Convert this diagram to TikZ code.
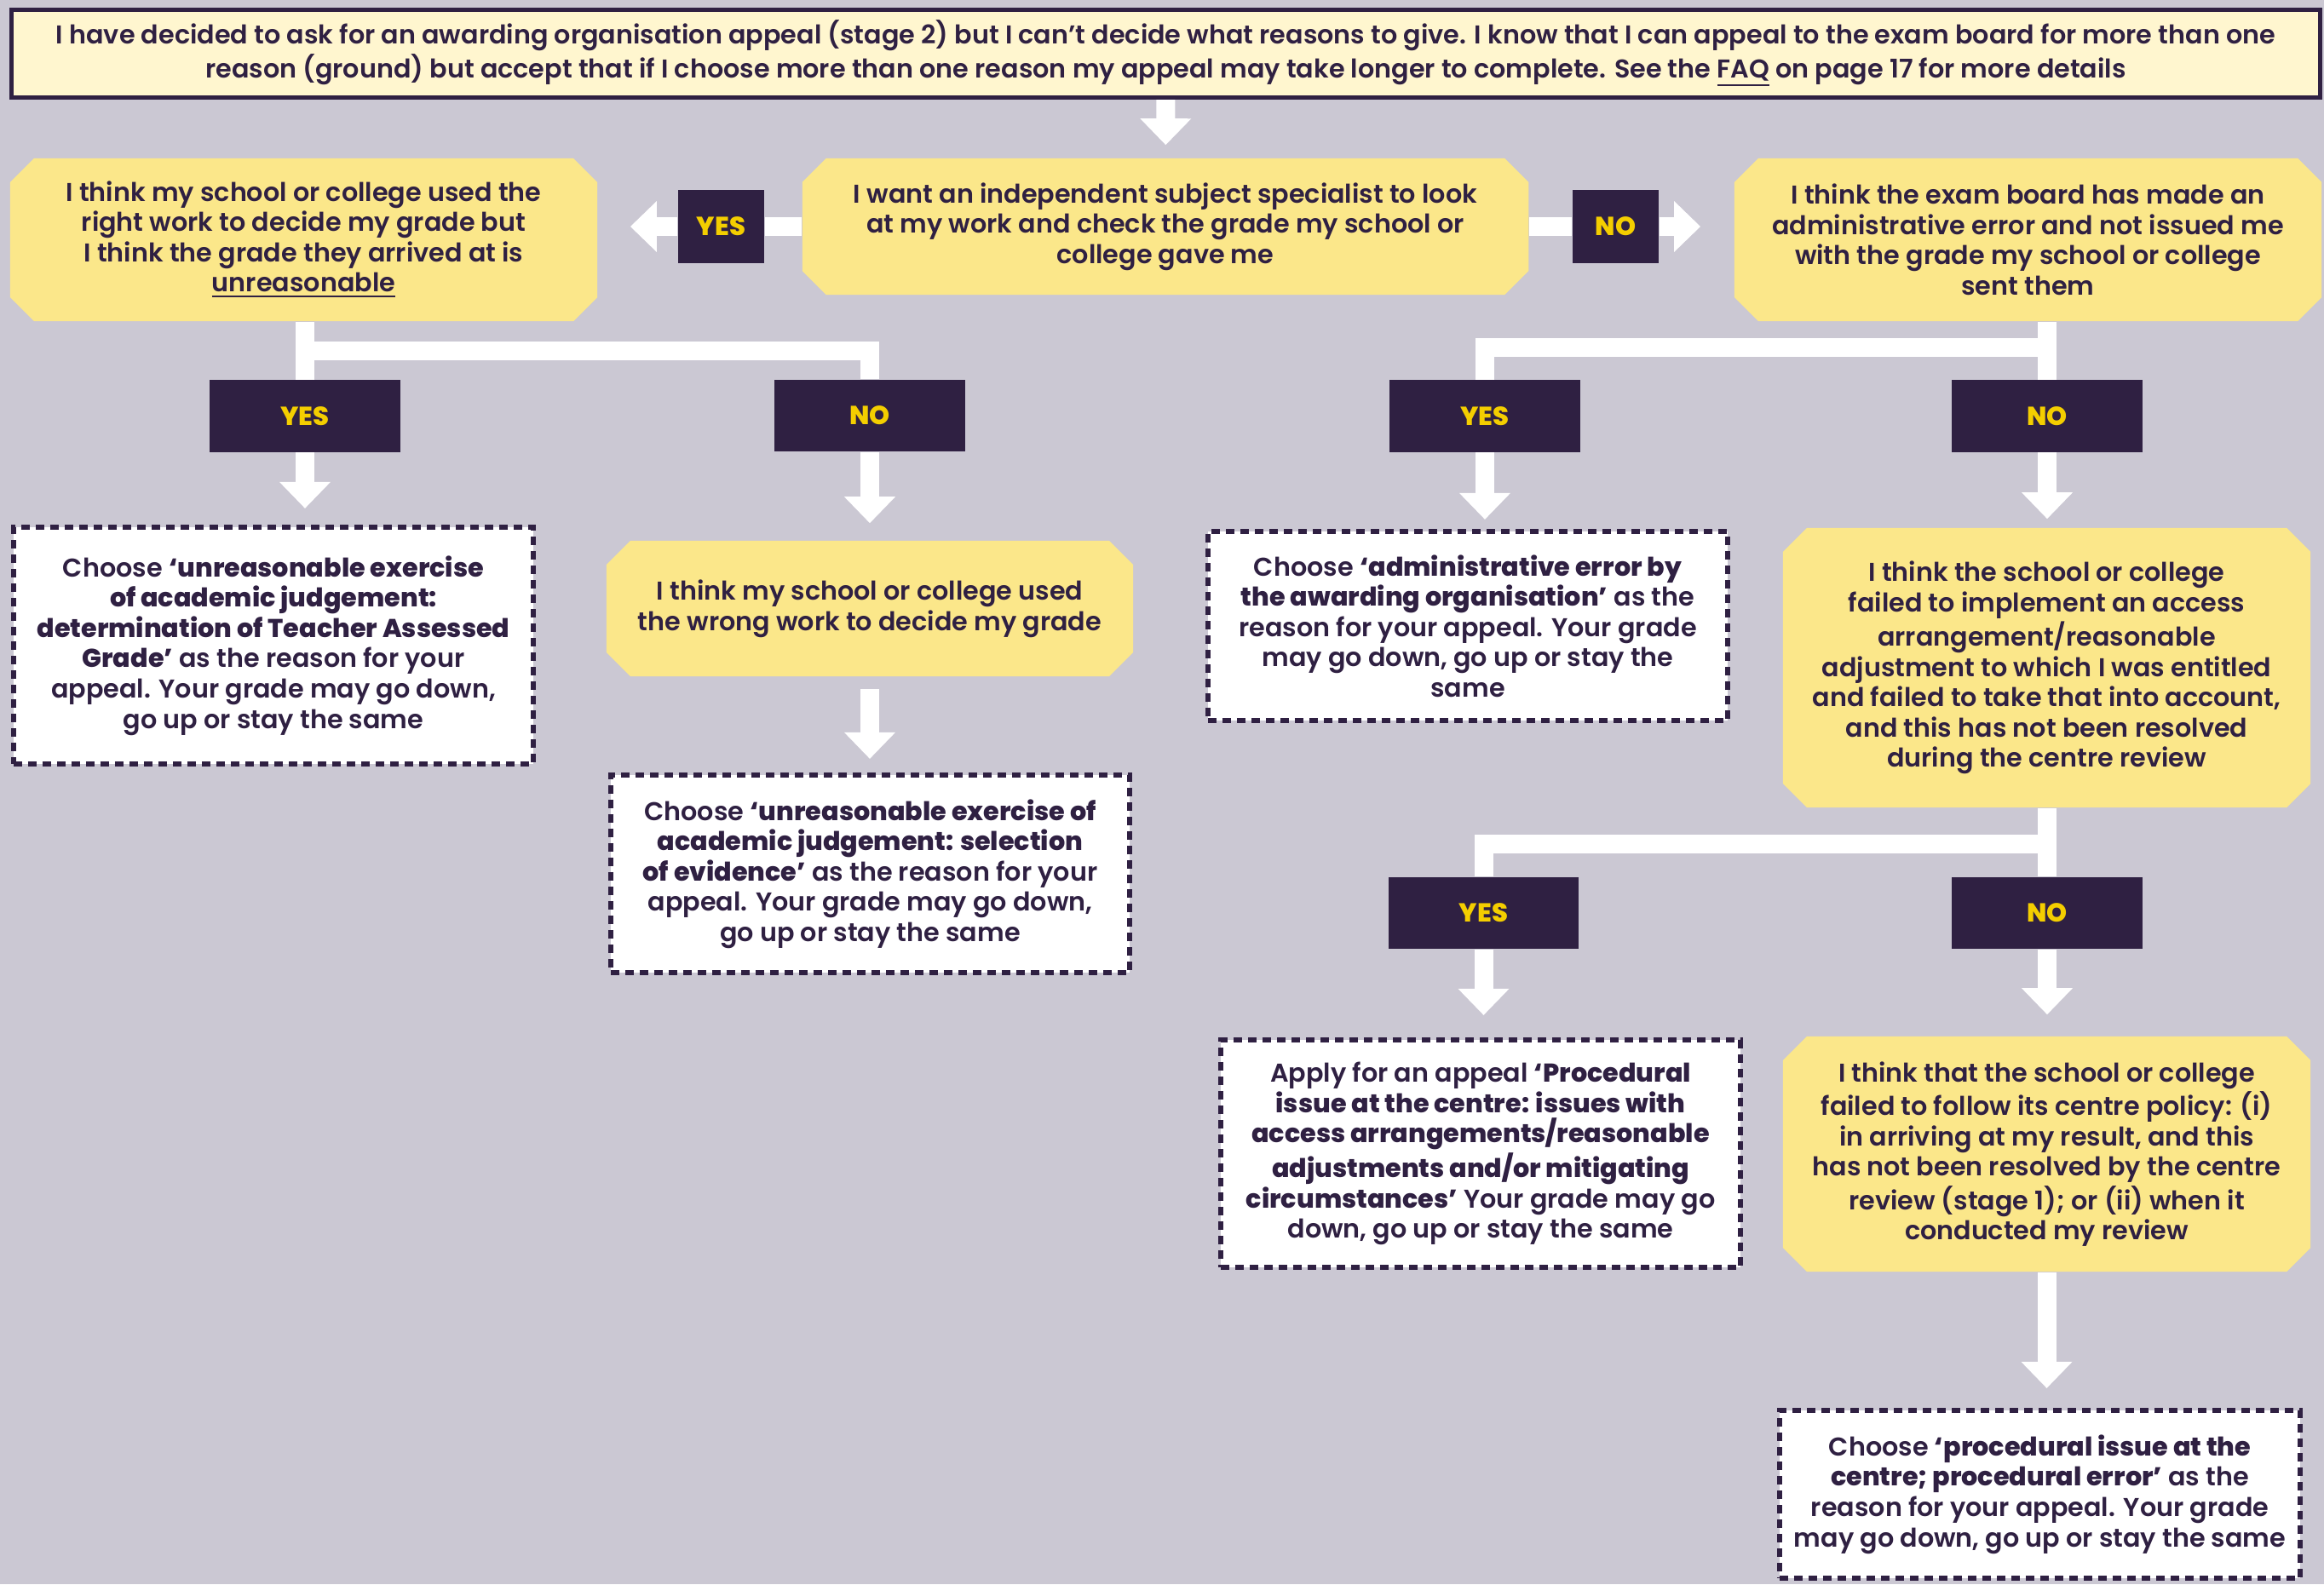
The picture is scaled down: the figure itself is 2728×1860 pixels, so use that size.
\documentclass[tikz,border=0pt]{standalone}
\usepackage{fontspec}
\setmainfont{Poppins SemiBold}[BoldFont={Poppins ExtraBold}]
\definecolor{GreyBack}{HTML}{CBC8D3}
\definecolor{PurpleDark}{HTML}{2F2042}
\definecolor{YellowBox}{HTML}{FBE78A}
\definecolor{CreamTop}{HTML}{FFF6CF}
\definecolor{GoldText}{HTML}{F4CE00}
\usetikzlibrary{
  arrows.meta,
  positioning,
  shapes.misc
}

\begin{document}
\begin{tikzpicture}[
  x=0.01cm, y=-0.01cm,
  font=\fontsize{8.6}{10.1}\selectfont,
  qbox/.style={
    chamfered rectangle, chamfered rectangle sep=0.14cm,
    fill=YellowBox, text=PurpleDark,
    align=center, inner sep=0pt
  },
  pick/.style={
    rectangle, fill=white, draw=PurpleDark,
    line width=0.06cm, dash pattern=on 0.1cm off 0.07cm,
    text=PurpleDark, align=center, inner sep=0pt
  },
  yesno/.style={
    rectangle, fill=PurpleDark, text=GoldText,
    font=\fontsize{8.7}{10}\selectfont\bfseries,
    minimum width=2.23cm, minimum height=0.84cm, inner sep=0pt
  },
  wline/.style={
    draw=white, line width=0.22cm
  },
  arr/.style={
    wline, -{Triangle[width=0.58cm, length=0.31cm]}
  }
]
  \fill[GreyBack] (0,0) rectangle (2728,1860);
  \useasboundingbox (0,0) rectangle (2728,1860);

  \node[draw=PurpleDark, line width=0.05cm, fill=CreamTop, text=PurpleDark,
    align=center, minimum width=27.08cm, minimum height=1.03cm, inner sep=0pt]
    (intro) at (1368.5,63) {I have decided to ask for an awarding organisation appeal (stage 2) but I can’t decide what reasons to give. I know that I can appeal to the exam board for more than one\\
    reason (ground) but accept that if I choose more than one reason my appeal may take longer to complete. See the \underline{FAQ} on page 17 for more details};

  % first question
  \node[qbox, minimum width=8.52cm, minimum height=1.60cm] (specialist) at (1368,266)
    {I want an independent subject specialist to look\\ at my work and check the grade my school or\\ college gave me};
  \node[qbox, minimum width=6.89cm, minimum height=1.91cm] (unreas) at (356.5,281.5)
    {I think my school or college used the\\ right work to decide my grade but\\ I think the grade they arrived at is\\ \underline{unreasonable}};
  \node[qbox, minimum width=6.89cm, minimum height=1.91cm] (exam) at (2380.5,281.5)
    {I think the exam board has made an\\ administrative error and not issued me\\ with the grade my school or college\\ sent them};
  \node[yesno, minimum width=1.01cm, minimum height=0.85cm] (yesA) at (846.5,266) {YES};
  \node[yesno, minimum width=1.01cm, minimum height=0.85cm] (noA) at (1896.5,266) {NO};

  % second row
  \node[yesno] (yesB) at (358,488.5) {YES};
  \node[yesno] (noB) at (1021,488) {NO};
  \node[yesno] (yesC) at (1743,488.5) {YES};
  \node[yesno] (noC) at (2403,488.5) {NO};
  \coordinate (splitL) at (358,412);
  \coordinate (splitR) at (2403,408);

  \node[pick, minimum width=6.10cm, minimum height=2.78cm] (tag) at (321,758)
    {Choose \textbf{‘unreasonable exercise}\\ \textbf{of academic judgement:}\\ \textbf{determination of Teacher Assessed}\\ \textbf{Grade’} as the reason for your\\ appeal. Your grade may go down,\\ go up or stay the same};
  \node[qbox, minimum width=6.18cm, minimum height=1.59cm] (wrongwork) at (1021,714.5)
    {I think my school or college used\\ the wrong work to decide my grade};
  \node[pick, minimum width=6.09cm, minimum height=2.32cm] (evidence) at (1021.5,1026)
    {Choose \textbf{‘unreasonable exercise of}\\ \textbf{academic judgement: selection}\\ \textbf{of evidence’} as the reason for your\\ appeal. Your grade may go down,\\ go up or stay the same};
  \node[pick, minimum width=6.10cm, minimum height=2.22cm] (adminerr) at (1723,735)
    {Choose \textbf{‘administrative error by}\\ \textbf{the awarding organisation’} as the\\ reason for your appeal. Your grade\\ may go down, go up or stay the\\ same};
  \node[qbox, minimum width=6.19cm, minimum height=3.28cm] (access) at (2402.5,784)
    {I think the school or college\\ failed to implement an access\\ arrangement/reasonable\\ adjustment to which I was entitled\\ and failed to take that into account,\\ and this has not been resolved\\ during the centre review};

  % third row
  \node[yesno] (yesD) at (1741.5,1072) {YES};
  \node[yesno] (noD) at (2403,1072) {NO};
  \coordinate (splitLow) at (2403,991);

  \node[pick, minimum width=6.10cm, minimum height=2.67cm] (procaa) at (1738,1354.5)
    {Apply for an appeal \textbf{‘Procedural}\\ \textbf{issue at the centre: issues with}\\ \textbf{access arrangements/reasonable}\\ \textbf{adjustments and/or mitigating}\\ \textbf{circumstances’} Your grade may go\\ down, go up or stay the same};
  \node[qbox, minimum width=6.19cm, minimum height=2.76cm] (policy) at (2402.5,1355)
    {I think that the school or college\\ failed to follow its centre policy: (i)\\ in arriving at my result, and this\\ has not been resolved by the centre\\ review (stage 1); or (ii) when it\\ conducted my review};
  \node[pick, minimum width=6.11cm, minimum height=1.97cm] (procerr) at (2394.5,1754.5)
    {Choose \textbf{‘procedural issue at the}\\ \textbf{centre; procedural error’} as the\\ reason for your appeal. Your grade\\ may go down, go up or stay the same};

  % connectors
  \draw[arr, shorten >=0.15cm] (intro) -- (specialist);
  \draw[wline] (specialist.west) -- (yesA.east);
  \draw[arr, shorten >=0.38cm] (yesA.west) -- (yesA.west -| unreas.east);
  \draw[wline] (specialist.east) -- (noA.west);
  \draw[arr, shorten >=0.39cm] (noA.east) -- (noA.east -| exam.west);

  \draw[wline] (yesB |- unreas.south) -- (yesB.north);
  \draw[wline] (splitL) -| (noB.north);
  \draw[arr, shorten >=0.19cm] (yesB.south) -- (yesB.south |- tag.north);
  \draw[arr, shorten >=0.20cm] (noB.south) -- (wrongwork.north);
  \draw[arr, shorten <=0.14cm, shorten >=0.16cm]
    (wrongwork.south) -- (wrongwork.south |- evidence.north);

  \draw[wline] (noC |- exam.south) -- (noC.north);
  \draw[wline] (splitR) -| (yesC.north);
  \draw[arr, shorten >=0.11cm] (yesC.south) -- (yesC.south |- adminerr.north);
  \draw[arr, shorten >=0.10cm] (noC.south) -- (noC.south |- access.north);

  \draw[wline] (noD |- access.south) -- (noD.north);
  \draw[wline] (splitLow) -| (yesD.north);
  \draw[arr, shorten >=0.26cm] (yesD.south) -- (yesD.south |- procaa.north);
  \draw[arr, shorten >=0.25cm] (noD.south) -- (noD.south |- policy.north);
  \draw[arr, shorten >=0.23cm] (policy.south) -- (policy.south |- procerr.north);
\end{tikzpicture}
\end{document}
